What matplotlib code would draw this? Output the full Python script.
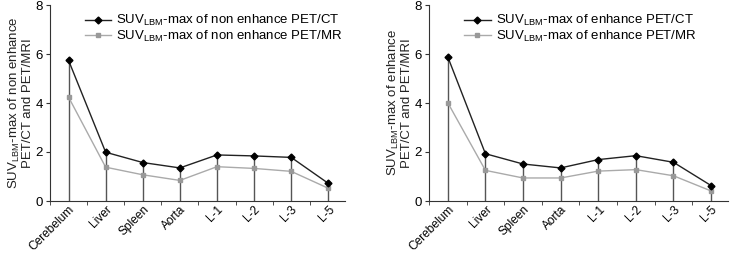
import matplotlib.pyplot as plt
import numpy as np
from matplotlib.ticker import FixedLocator, NullFormatter

plt.rcParams['font.family'] = ['Liberation Sans', 'DejaVu Sans']
plt.rcParams['mathtext.fontset'] = 'custom'
plt.rcParams['mathtext.rm'] = 'Liberation Sans'

regions = ["Cerebelum", "Liver", "Spleen", "Aorta", "L-1", "L-2", "L-3", "L-5"]

ct_non = [5.74, 1.99, 1.57, 1.35, 1.88, 1.84, 1.78, 0.72]
mr_non = [4.24, 1.38, 1.07, 0.84, 1.40, 1.33, 1.21, 0.52]
ct_enh = [5.88, 1.93, 1.51, 1.35, 1.69, 1.85, 1.58, 0.63]
mr_enh = [4.01, 1.25, 0.94, 0.94, 1.22, 1.28, 1.03, 0.41]

fig = plt.figure(figsize=(7.35, 2.54), dpi=100)
W, H = 735, 254
ax1 = fig.add_axes([50 / W, 53 / H, 295 / W, 196 / H])
ax2 = fig.add_axes([429 / W, 53 / H, 299 / W, 196 / H])

sub = r"SUV$_{\mathrm{LBM}}$"
for ax, ct, mr, kind in [(ax1, ct_non, mr_non, "non enhance"),
                         (ax2, ct_enh, mr_enh, "enhance")]:
    x = np.arange(len(regions))
    ax.vlines(x, 0, ct, color="#555555", lw=1.0, zorder=1)
    ax.plot(x, ct, "-", color="#222222", marker="D", ms=3.5, mfc="black", mec="black",
            lw=1.0, label=f"{sub}-max of {kind} PET/CT", zorder=3)
    ax.plot(x, mr, "-", color="#aaaaaa", marker="s", ms=3.5, mfc="#999999", mec="#999999",
            lw=1.0, label=f"{sub}-max of {kind} PET/MR", zorder=2)
    ax.set_xlim(-0.5, 7.45)
    ax.set_ylim(0, 8)
    ax.set_yticks([0, 2, 4, 6, 8])
    ax.set_xticks(x)
    ax.set_xticklabels(regions, rotation=45, ha="right", rotation_mode="anchor", fontsize=8.6)
    ax.tick_params(axis="x", which="major", length=0, pad=2)
    ax.xaxis.set_minor_locator(FixedLocator(np.arange(-0.5, 8, 1.0)))
    ax.xaxis.set_minor_formatter(NullFormatter())
    ax.tick_params(axis="x", which="minor", length=3, direction="out", color="#333333")
    ax.tick_params(axis="y", length=3, labelsize=9.5, pad=2, color="#333333")
    for s in ["top", "right"]:
        ax.spines[s].set_visible(False)
    for s in ["left", "bottom"]:
        ax.spines[s].set_color("#333333")
        ax.spines[s].set_linewidth(0.8)
    ax.set_ylabel(f"{sub}-max of {kind}\nPET/CT and PET/MRI", fontsize=9.5, color="#222222",
                  labelpad=1, linespacing=1.0)
    ax.legend(loc="upper left", bbox_to_anchor=(0.1, 0.985), frameon=False, fontsize=9.5,
              handlelength=2.0, handletextpad=0.4, labelspacing=0.05, borderaxespad=0)

fig.savefig("out.png", dpi=100)
